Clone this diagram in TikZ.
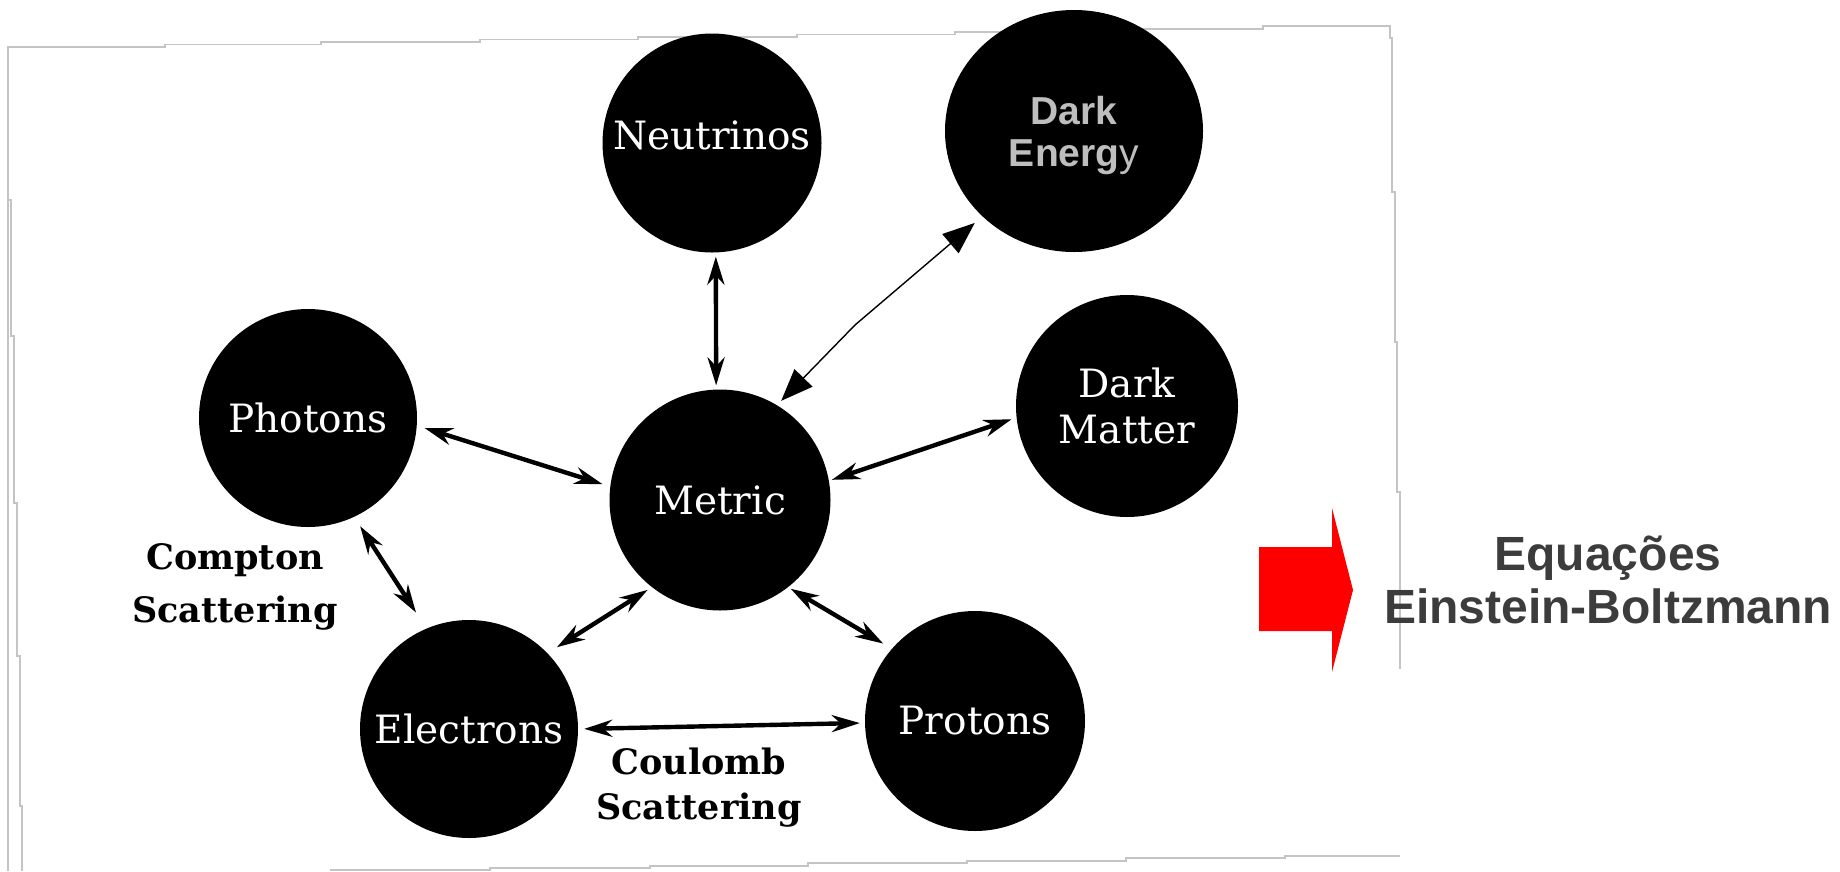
\documentclass[tikz,border=0pt]{standalone}
\usepackage{fontspec}
\newfontfamily\dvs{DejaVu Serif}
\newfontfamily\lib{Liberation Sans}
\usetikzlibrary{arrows.meta,shapes.geometric}
\definecolor{bordergray}{HTML}{C4C4C4}
\definecolor{degray}{HTML}{BEBEBE}
\definecolor{eqgray}{HTML}{3C3C3C}
\definecolor{arrred}{HTML}{FF0000}
\begin{document}
\begin{tikzpicture}[x=1pt,y=-1pt,
  ball/.style={circle,fill=black,inner sep=0pt,minimum size=#1,text=white,
    font=\dvs\fontsize{39}{46}\selectfont,align=center},
  link/.style={line width=4.4pt,
    {Stealth[length=28pt,width=17pt,inset=9pt]}-{Stealth[length=28pt,width=17pt,inset=9pt]}},
  delink/.style={line width=1.4pt,
    {Triangle[length=32pt,width=25pt]}-{Triangle[length=32pt,width=25pt]}},
  scatlabel/.style={font=\dvs\bfseries\fontsize{35}{#1}\selectfont,align=center,inner sep=0pt,anchor=north},
  scanedge/.style={draw=bordergray,line width=1.5pt}]
\useasboundingbox (0,0) rectangle (1840,871);
\fill[white] (0,0) rectangle (1840,871);
% scanned frame
\draw[scanedge] (8,871) -- (8,47) -- (165,47) -- (165,44.5) -- (321,44.5) -- (321,42) -- (480,42) -- (480,39.5) -- (638,39.5) -- (638,37) -- (797,37) -- (797,34.5) -- (955,34.5) -- (955,32) -- (1113,32) -- (1113,29) -- (1263,29) -- (1263,26) -- (1390,26) -- (1390,38) -- (1392,38) -- (1392,192) -- (1395,192) -- (1395,342) -- (1397,342) -- (1397,492) -- (1400,492) -- (1400,669);
\draw[scanedge] (8,200) -- (11,200) -- (11,336) -- (14,336) -- (14,503) -- (17,503) -- (17,656) -- (20,656) -- (20,806) -- (22,806) -- (22,871);
\draw[scanedge] (330,870) -- (490,870) -- (490,868) -- (650,868) -- (650,866) -- (808,866) -- (808,863) -- (967,863) -- (967,861) -- (1126,861) -- (1126,858) -- (1285,858) -- (1285,856) -- (1400,856);
% nodes
\node[ball=219pt,text depth=16pt] (neut) at (712,143) {Neutrinos};
\node[ellipse,fill=black,inner sep=0pt,minimum width=258pt,minimum height=242pt,text depth=0pt,
  text=degray,align=center,font=\lib\bfseries\fontsize{39}{42}\selectfont] (de) at (1074,131) {Dark\\Energ{\mdseries y}};
\node[ball=218pt] (phot) at (308,418) {Photons};
\node[ball=222pt] (dm) at (1127,406) {Dark\\Matter};
\node[ball=221pt] (metric) at (720,500) {Metric};
\node[ball=218pt] (elec) at (469,729) {Electrons};
\node[ball=220pt] (prot) at (975,721) {Protons};
\coordinate (kink) at (855,325);
% connectors
\draw[link,shorten <=4pt,shorten >=4pt] (neut.-88) -- (metric.92);
\draw[delink,shorten <=10pt,shorten >=6pt] (de.223) -- (kink) -- (metric.59);
\draw[link,shorten <=8pt,shorten >=8pt] (phot.-4) -- (metric.173);
\draw[link,shorten <=5pt,shorten >=3pt] (dm.186) -- (metric.10);
\draw[link,shorten <=11pt,shorten >=19pt] (phot.-65) -- (elec.113);
\draw[link,shorten <=5pt,shorten >=11pt] (metric.232) -- (elec.44);
\draw[link,shorten <=3pt,shorten >=10pt] (metric.-52) -- (prot.139);
\draw[link,shorten <=6pt,shorten >=5pt] (elec.0) -- (prot.181);
% labels
\node[scatlabel=53] (compton) at (235,543) {Compton\\Scattering};
\node[scatlabel=45] (coulomb) at (699,748) {Coulomb\\Scattering};
% red arrow and equations
\fill[arrred] (1259,547) -- (1332,547) -- (1332,508) -- (1353,590) -- (1332,672) -- (1332,631) -- (1259,631) -- cycle;
\node[text=eqgray,align=center,inner sep=0pt,font=\lib\bfseries\fontsize{48}{53}\selectfont] (eqs) at (1608,580) {Equações\\Einstein-Boltzmann};
\end{tikzpicture}
\end{document}
